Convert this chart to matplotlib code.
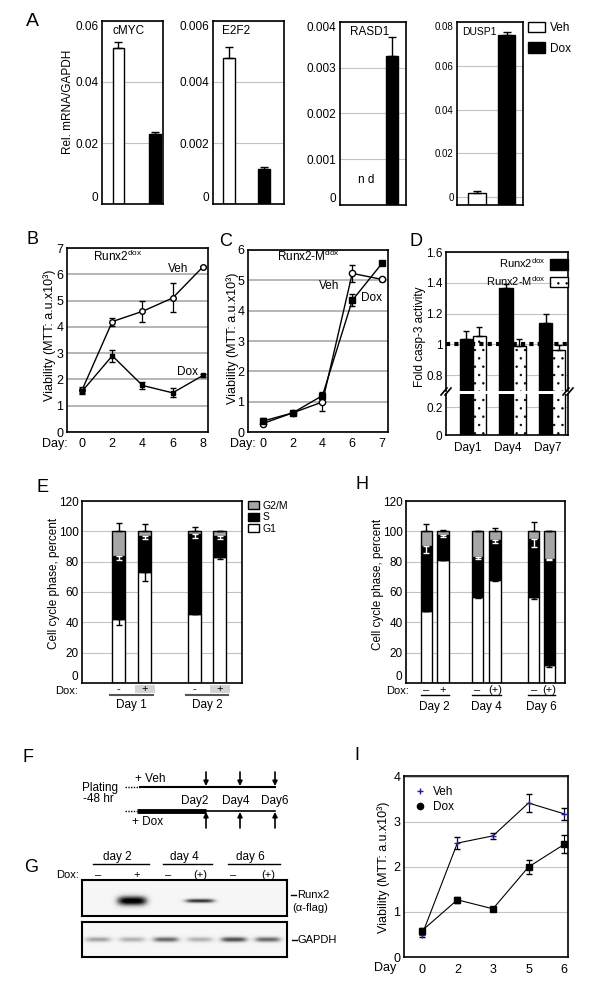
import numpy as np
import matplotlib
matplotlib.use('Agg')
import matplotlib.pyplot as plt
from matplotlib.patches import Patch, Rectangle
from matplotlib.lines import Line2D

plt.rcParams['font.family'] = ['Liberation Sans', 'DejaVu Sans']
plt.rcParams['mathtext.fontset'] = 'custom'
plt.rcParams['mathtext.rm'] = 'Liberation Sans'
plt.rcParams['font.size'] = 8.5
plt.rcParams['axes.linewidth'] = 1.2
plt.rcParams['hatch.linewidth'] = 0.5

# ---------------- data ----------------
# A: qPCR, relative mRNA / GAPDH (RASD1 in Veh not detected)
genes = ['cMYC', 'E2F2', 'RASD1', 'DUSP1']
mrna_veh = [0.0511, 0.0048, None, 0.0021]
mrna_veh_err = [0.0021, 0.00036, None, 0.0009]
mrna_dox = [0.0230, 0.00114, 0.00325, 0.0741]
mrna_dox_err = [0.0005, 0.00006, 0.00042, 0.0012]
mrna_ticks = [[0, 0.02, 0.04, 0.06],
              [0, 0.002, 0.004, 0.006],
              [0, 0.001, 0.002, 0.003, 0.004],
              [0, 0.02, 0.04, 0.06, 0.08]]

# B: Runx2dox viability
b_days = ['0', '2', '4', '6', '8']
b_veh = [1.6, 4.2, 4.59, 5.1, 6.28]
b_veh_err = [0.1, 0.15, 0.4, 0.55, 0.05]
b_dox = [1.55, 2.9, 1.77, 1.49, 2.15]
b_dox_err = [0.1, 0.22, 0.14, 0.17, 0.05]

# C: Runx2-Mdox viability
c_days = ['0', '2', '4', '6', '7']
c_veh = [0.28, 0.63, 0.99, 5.23, 5.03]
c_veh_err = [0.05, 0.05, 0.3, 0.27, 0.05]
c_dox = [0.36, 0.63, 1.2, 4.34, 5.56]
c_dox_err = [0.1, 0.05, 0.12, 0.2, 0.05]

# D: fold caspase-3 activity
d_days = ['Day1', 'Day4', 'Day7']
d_runx2 = [1.037, 1.363, 1.135]
d_runx2_err = [0.05, 0.027, 0.06]
d_runx2m = [1.052, 0.987, 0.961]
d_runx2m_err = [0.061, 0.05, 0.037]

# E: cell cycle, Day 1 / Day 2, Dox - / +
e_dox = ['-', '+', '-', '+']
e_days = ['Day 1', 'Day 2']
e_g1 = [42.5, 73.2, 45.5, 83.0]
e_g1_err = [4.0, 6.0, 0.0, 1.3]
e_s = [41.2, 23.5, 52.5, 13.7]
e_s_err = [2.7, 2.0, 2.6, 2.0]
e_g2m = [16.3, 3.3, 2.0, 3.3]
e_g2m_err = [5.2, 5.0, 3.0, 0.5]

# H: cell cycle, Day 2 / 4 / 6
h_dox = ['\u2013', '+', '\u2013', '(+)', '\u2013', '(+)']
h_days = ['Day 2', 'Day 4', 'Day 6']
h_g1 = [47.7, 81.0, 56.4, 68.0, 56.9, 11.8]
h_g1_err = [0.0, 0.0, 0.5, 0.5, 1.5, 1.0]
h_s = [42.9, 16.4, 26.6, 26.1, 38.1, 70.1]
h_s_err = [5.0, 1.0, 1.0, 2.0, 5.5, 1.0]
h_g2m = [9.4, 2.6, 17.0, 5.9, 5.0, 18.1]
h_g2m_err = [4.8, 1.0, 0.5, 2.0, 6.0, 0.5]

# F: schedule
f_days = ['Day2', 'Day4', 'Day6']

# G: western blot band intensities (0..1) per lane
g_days = ['day 2', 'day 4', 'day 6']
g_dox = ['\u2013', '+', '\u2013', '(+)', '\u2013', '(+)']
runx2_band = [0.0, 1.0, 0.0, 0.8, 0.0, 0.0]
runx2_thick = [0.05, 0.14, 0.05, 0.06, 0.05, 0.05]
gapdh_band = [0.4, 0.35, 0.6, 0.35, 0.7, 0.6]

# I: viability, Runx2 expression for 2 days
i_days = ['0', '2', '3', '5', '6']
i_veh = [0.48, 2.53, 2.69, 3.42, 3.18]
i_veh_err = [0.04, 0.14, 0.07, 0.2, 0.14]
i_dox = [0.58, 1.27, 1.07, 2.0, 2.5]
i_dox_err = [0.06, 0.07, 0.05, 0.15, 0.2]

# ---------------- helpers ----------------
W, H = 600, 996
fig = plt.figure(figsize=(6, 9.96), dpi=100)


def add_ax(box):
    x0, y0, x1, y1 = box
    return fig.add_axes([x0 / W, 1 - y1 / H, (x1 - x0) / W, (y1 - y0) / H])


def ftext(x, y, s, **kw):
    kw.setdefault('ha', 'center')
    kw.setdefault('va', 'center')
    fig.text(x / W, 1 - y / H, s, **kw)


def fline(xs, ys, **kw):
    fig.add_artist(Line2D([x / W for x in xs], [1 - y / H for y in ys], **kw))


def style(ax, fs=8.5, grid='#c4c4c4', glw=0.8):
    ax.tick_params(length=0, pad=2.5, labelsize=fs)
    ax.yaxis.grid(True, color=grid, lw=glw)
    ax.set_axisbelow(True)


mathdox = r'$^{\mathrm{dox}}$'
ylab_mtt = 'Viability (MTT: a.u.x10\u00b3)'

# ---------------- A ----------------
a_boxes = [(102, 21, 163, 204), (213, 21, 284, 204), (340, 22, 406, 205), (457, 22, 523, 205)]
a_xlims = [(-0.45, 1.22), (-0.46, 1.57), (-0.49, 1.4), (-0.68, 1.56)]
a_ylims = [(0, 0.06), (0, 0.006), (0, 0.004), (-0.0035, 0.08)]
a_width = [0.32, 0.34, 0.34, 0.59]
a_label_x = [0.18, 0.13, 0.15, 0.08]
for i, g in enumerate(genes):
    ax = add_ax(a_boxes[i])
    lo, hi = a_ylims[i]
    w = a_width[i]
    fs = 7 if i == 3 else 8.5
    if mrna_veh[i] is not None:
        ax.bar(0, mrna_veh[i] - lo, w, bottom=lo, color='white', edgecolor='k', lw=1)
        ax.errorbar(0, mrna_veh[i], yerr=[[0], [mrna_veh_err[i]]], fmt='none',
                    ecolor='k', capsize=3, elinewidth=1)
    else:
        ax.text(0.27, 0.00055, 'n d', ha='center', va='center', fontsize=8.5)
    ax.bar(1, mrna_dox[i] - lo, w, bottom=lo, color='black', edgecolor='k', lw=1)
    ax.errorbar(1, mrna_dox[i], yerr=[[0], [mrna_dox_err[i]]], fmt='none',
                ecolor='k', capsize=3, elinewidth=1)
    ax.set_xlim(*a_xlims[i])
    ax.set_ylim(lo, hi)
    ax.set_xticks([])
    ax.set_yticks(mrna_ticks[i])
    ax.set_yticklabels([f'{t:g}' for t in mrna_ticks[i]])
    style(ax, fs=fs)
    for t, lab in zip(mrna_ticks[i], ax.get_yticklabels()):
        if t == lo:
            lab.set_va('bottom')
        elif t == hi:
            lab.set_va('top')
    ax.text(a_label_x[i], 0.945, g, transform=ax.transAxes, ha='left', va='center',
            fontsize=7.5 if i == 3 else 8.5)
    if i == 3:
        ax.legend(handles=[Patch(facecolor='white', edgecolor='k', lw=1, label='Veh'),
                           Patch(facecolor='black', edgecolor='k', lw=1, label='Dox')],
                  loc='upper left', bbox_to_anchor=(1.076, 1.0), frameon=False,
                  borderpad=0, borderaxespad=0, handlelength=1.45, handleheight=0.97,
                  labelspacing=0.7, handletextpad=0.42, fontsize=8.5)
ftext(68, 102, 'Rel. mRNA/GAPDH', rotation=90)
ftext(32, 21, 'A', fontsize=14)

# ---------------- B ----------------
ax = add_ax((67, 248, 208, 432))
xb = np.arange(len(b_days))
ax.errorbar(xb, b_veh, yerr=b_veh_err, color='k', lw=1, marker='o', ms=4,
            mfc='white', mec='k', capsize=2.5, elinewidth=0.9)
ax.errorbar(xb, b_dox, yerr=b_dox_err, color='k', lw=1, marker='s', ms=3,
            mfc='k', mec='k', capsize=2.5, elinewidth=0.9)
ax.set_xlim(-0.5, 4.17)
ax.set_ylim(0, 7)
ax.set_yticks(range(8))
ax.set_xticks(xb)
ax.set_xticklabels(b_days)
style(ax, fs=9, grid='#a9a9a9', glw=1.2)
ax.tick_params(axis='x', pad=4)
ftext(93, 256, 'Runx2' + mathdox, ha='left', fontsize=8.5)
ftext(178, 269, 'Veh')
ftext(187, 372, 'Dox')
ftext(55, 444, 'Day:', fontsize=9)
ftext(50, 335, ylab_mtt, rotation=90, fontsize=9)
ftext(32, 240, 'B', fontsize=13)

# ---------------- C ----------------
ax = add_ax((248, 250, 388, 432))
xc = np.arange(len(c_days))
ax.errorbar(xc, c_veh, yerr=c_veh_err, color='k', lw=1, marker='o', ms=4.5,
            mfc='white', mec='k', capsize=2.5, elinewidth=0.9, zorder=3)
ax.errorbar(xc, c_dox, yerr=c_dox_err, color='k', lw=1, marker='s', ms=4.5,
            mfc='k', mec='k', capsize=2.5, elinewidth=0.9, zorder=3)
ax.set_xlim(-0.5, 4.2)
ax.set_ylim(0, 6)
ax.set_yticks(range(7))
ax.set_xticks(xc)
ax.set_xticklabels(c_days)
style(ax, fs=9, grid='#a9a9a9', glw=1.2)
ax.tick_params(axis='x', pad=4)
ftext(277, 256, 'Runx2-M' + mathdox, ha='left', fontsize=8.5)
ftext(329, 286, 'Veh')
ftext(371, 298, 'Dox')
ftext(243, 444, 'Day:', fontsize=9)
ftext(233, 338, ylab_mtt, rotation=90, fontsize=9)
ftext(226, 241, 'C', fontsize=13)

# ---------------- D ----------------
d_top = add_ax((446, 252, 568, 391))
d_bot = add_ax((446, 394, 568, 435))
xd = np.arange(len(d_days))
wd = 0.33
for ax in (d_top, d_bot):
    ax.bar(xd - wd / 2, d_runx2, wd, color='black', edgecolor='k', lw=1)
    ax.bar(xd + wd / 2, d_runx2m, wd, color='white', edgecolor='k', lw=1, hatch='..')
    ax.set_xlim(-0.68, 2.4)
    style(ax, fs=8.5)
d_top.errorbar(xd - wd / 2, d_runx2, yerr=[np.zeros(3), d_runx2_err], fmt='none',
               ecolor='k', capsize=2.5, elinewidth=1)
d_top.errorbar(xd + wd / 2, d_runx2m, yerr=[np.zeros(3), d_runx2m_err], fmt='none',
               ecolor='k', capsize=2.5, elinewidth=1)
d_top.axhline(1.0, color='k', lw=3, ls=(0, (1, 1)), zorder=5)
d_top.set_ylim(0.696, 1.6)
d_top.set_yticks([0.8, 1.0, 1.2, 1.4, 1.6])
d_top.set_yticklabels(['0.8', '1', '1.2', '1.4', '1.6'])
d_top.set_xticks([])
d_top.spines['bottom'].set_visible(False)
d_bot.set_ylim(0, 0.296)
d_bot.set_yticks([0, 0.2])
d_bot.set_yticklabels(['0', '0.2'])
d_bot.spines['top'].set_visible(False)
d_bot.set_xticks(xd - 0.12)
d_bot.set_xticklabels(d_days)
d_bot.tick_params(axis='x', pad=5)
d_top.legend(handles=[Patch(facecolor='black', edgecolor='k', lw=1, label='Runx2' + mathdox),
                      Patch(facecolor='white', edgecolor='k', lw=1, hatch='..',
                            label='Runx2-M' + mathdox)],
             loc='upper right', bbox_to_anchor=(1.0, 0.97), frameon=False, borderpad=0,
             borderaxespad=0, markerfirst=False, handlelength=1.65, handleheight=1.1,
             labelspacing=0.35, handletextpad=0.4, fontsize=8)
for bx in (446, 568):
    for dx in (-2, 2):
        fline([bx + dx - 3, bx + dx + 3], [395, 388], color='k', lw=1.2)
ftext(420, 337, 'Fold casp-3 activity', rotation=90, fontsize=8.5)
ftext(416, 241, 'D', fontsize=13)


# ---------------- E / H ----------------
def cycle_panel(ax, pos, g1, g1e, s, se, g2, g2e, w):
    g1 = np.array(g1)
    s = np.array(s)
    g2 = np.array(g2)
    z = np.zeros(len(pos))
    ax.bar(pos, g1, w, color='white', edgecolor='k', lw=1)
    ax.bar(pos, s, w, bottom=g1, color='black', edgecolor='k', lw=1)
    ax.bar(pos, g2, w, bottom=g1 + s, color='#a6a6a6', edgecolor='k', lw=1)
    ax.errorbar(pos, g1, yerr=[g1e, z], fmt='none', ecolor='k', capsize=2.5, elinewidth=1)
    ax.errorbar(pos, g1 + s, yerr=[se, z], fmt='none', ecolor='white', capsize=2.5,
                elinewidth=1)
    ax.errorbar(pos, g1 + s + g2, yerr=[z, g2e], fmt='none', ecolor='k', capsize=2.5,
                elinewidth=1)
    ax.set_ylim(0, 120)
    ax.set_yticks(range(0, 121, 20))
    ax.set_xticks([])
    style(ax, fs=8.5)
    ax.get_yticklabels()[0].set_va('bottom')


e_box = (82, 501, 242, 683)
ax = add_ax(e_box)
e_pos = np.array([0, 1, 2.9, 3.85])
cycle_panel(ax, e_pos, e_g1, e_g1_err, e_s, e_s_err, e_g2m, e_g2m_err, 0.51)
ax.set_xlim(-1.39, 4.7)
ax.legend(handles=[Patch(facecolor='#a6a6a6', edgecolor='k', lw=1, label='G2/M'),
                   Patch(facecolor='black', edgecolor='k', lw=1, label='S'),
                   Patch(facecolor='white', edgecolor='k', lw=1, label='G1')],
          loc='upper left', bbox_to_anchor=(1.04, 1.0), frameon=False, borderpad=0,
          borderaxespad=0, handlelength=1.0, handleheight=0.8, labelspacing=0.12,
          handletextpad=0.4, fontsize=7.5)
tr = ax.get_xaxis_transform()
fy = lambda py: (e_box[3] - py) / (e_box[3] - e_box[1])
for p, lab in zip(e_pos, e_dox):
    if lab == '+':
        ax.add_patch(Rectangle((p - 0.38, fy(693)), 0.76, fy(685) - fy(693), transform=tr,
                               facecolor='#d4d4d4', edgecolor='none', clip_on=False))
    ax.text(p, fy(689), lab, transform=tr, ha='center', va='center', fontsize=8)
for k, lab in enumerate(e_days):
    a, b = e_pos[2 * k], e_pos[2 * k + 1]
    ax.plot([a - 0.32, b + 0.32], [fy(694.5)] * 2, transform=tr, color='#555555', lw=1.5,
            clip_on=False)
    ax.text((a + b) / 2, fy(705), lab, transform=tr, ha='center', va='center', fontsize=8.5)
ftext(67, 691, 'Dox:', fontsize=8)
ftext(54, 583, 'Cell cycle phase, percent', rotation=90, fontsize=8.5)
ftext(43, 487, 'E', fontsize=13)

h_box = (406, 501, 565, 683)
ax = add_ax(h_box)
h_pos = np.array([0, 1, 3.1, 4.15, 6.5, 7.45])
cycle_panel(ax, h_pos, h_g1, h_g1_err, h_s, h_s_err, h_g2m, h_g2m_err, 0.7)
ax.set_xlim(-1.24, 8.4)
tr = ax.get_xaxis_transform()
for p, lab in zip(h_pos, h_dox):
    ax.text(p, fy(690), lab, transform=tr, ha='center', va='center', fontsize=8)
for k, lab in enumerate(h_days):
    a, b = h_pos[2 * k], h_pos[2 * k + 1]
    ax.plot([a - 0.35, b + 0.35], [fy(695)] * 2, transform=tr, color='k', lw=1, clip_on=False)
    ax.text((a + b) / 2, fy(707), lab, transform=tr, ha='center', va='center', fontsize=8.5)
ftext(398, 691, 'Dox:', fontsize=8)
ftext(378, 584, 'Cell cycle phase, percent', rotation=90, fontsize=8.5)
ftext(362, 484, 'H', fontsize=13)

# ---------------- F ----------------
axf = add_ax((0, 740, 300, 840))
axf.set_xlim(0, 300)
axf.set_ylim(840, 740)
axf.axis('off')
f_arrow_x = [206, 240, 275]
f_label_x = [195, 236, 275]
axf.plot([125, 140], [787, 787], color='k', lw=1, ls=(0, (1, 1)))
axf.plot([140, 275], [787, 787], color='k', lw=1.5)
axf.plot([125, 137], [811, 811], color='k', lw=1, ls=(0, (1, 1)))
axf.plot([137, 206], [811, 811], color='k', lw=3.5, solid_capstyle='butt')
axf.plot([206, 275], [811, 811], color='k', lw=1.2)
for x, lab, lx in zip(f_arrow_x, f_days, f_label_x):
    axf.annotate('', xy=(x, 786), xytext=(x, 772),
                 arrowprops=dict(arrowstyle='-|>', color='k', lw=1.2, mutation_scale=7,
                                 shrinkA=0, shrinkB=0))
    axf.annotate('', xy=(x, 812), xytext=(x, 828),
                 arrowprops=dict(arrowstyle='-|>', color='k', lw=1.2, mutation_scale=7,
                                 shrinkA=0, shrinkB=0))
    axf.text(lx, 801, lab, ha='center', va='center', fontsize=8.5)
axf.text(135, 779, '+ Veh', ha='left', va='center', fontsize=8.5)
axf.text(148, 822, '+ Dox', ha='center', va='center', fontsize=8.5)
axf.text(100, 788, 'Plating', ha='center', va='center', fontsize=8.5)
axf.text(98, 799, '-48 hr', ha='center', va='center', fontsize=8.5)
ftext(28, 757, 'F', fontsize=13)


# ---------------- G ----------------
def blot(box, levels, thick, yc, hw):
    ax = add_ax(box)
    xs = np.linspace(-0.47, 5.56, 410)
    ys = np.linspace(0, 1, 80)
    X, Y = np.meshgrid(xs, ys)
    img = np.full(X.shape, 0.07)
    for lane, lv in enumerate(levels):
        img += lv * np.exp(-((X - lane) / hw) ** 4) * np.exp(-((Y - yc) / thick[lane]) ** 2)
    ax.imshow(np.clip(img, 0, 1), cmap='Greys', vmin=0, vmax=1, aspect='auto',
              extent=(-0.47, 5.56, 1, 0), interpolation='bilinear')
    ax.set_xticks([])
    ax.set_yticks([])
    for sp in ax.spines.values():
        sp.set_linewidth(1.5)
    return ax


blot((82, 880, 287, 916), runx2_band, runx2_thick, 0.58, 0.45)
blot((82, 922, 287, 957), gapdh_band, [0.08] * 6, 0.5, 0.4)
lane_x = [98, 137, 168, 200, 233, 268]
for k, lab in enumerate(g_days):
    a, b = lane_x[2 * k], lane_x[2 * k + 1]
    ftext((a + b) / 2, 857, lab, fontsize=8.5)
    fline([a - 5, b + 12], [864, 864], color='k', lw=1)
for x, lab in zip(lane_x, g_dox):
    ftext(x, 875, lab, fontsize=8)
ftext(68, 875, 'Dox:', fontsize=8)
fline([291, 296], [895, 895], color='k', lw=1)
fline([292, 297], [940, 940], color='k', lw=1)
ftext(297, 895, 'Runx2', ha='left', fontsize=8)
ftext(292, 908, '(\u03b1-flag)', ha='left', fontsize=8)
ftext(298, 940, 'GAPDH', ha='left', fontsize=8)
ftext(31, 867, 'G', fontsize=13)

# ---------------- I ----------------
ax = add_ax((404, 776, 568, 957))
xi = np.arange(len(i_days))
ax.errorbar(xi, i_veh, yerr=i_veh_err, color='k', lw=0.8, marker='+', ms=4, mec='#1f1f9a',
            mew=1, capsize=2.5, elinewidth=0.8, zorder=3)
ax.errorbar(xi, i_dox, yerr=i_dox_err, color='k', lw=0.8, marker='s', ms=4.5, mfc='k',
            mec='k', capsize=2.5, elinewidth=0.8, zorder=3)
ax.set_xlim(-0.5, 4.11)
ax.set_ylim(0, 4.02)
ax.set_yticks(range(5))
ax.set_xticks(xi)
ax.set_xticklabels(i_days)
style(ax, fs=9)
ax.tick_params(axis='x', pad=5)
ax.legend(handles=[Line2D([], [], ls='none', marker='+', ms=4, mec='#1f1f9a', mew=1, label='Veh'),
                   Line2D([], [], ls='none', marker='o', ms=4.5, mfc='k', mec='k', label='Dox')],
          loc='upper left', bbox_to_anchor=(0.06, 0.945), frameon=False, borderpad=0,
          borderaxespad=0, handlelength=1.0, handletextpad=0.6, labelspacing=0.27,
          fontsize=8.5)
ftext(385, 968, 'Day', fontsize=9)
ftext(384, 867, ylab_mtt, rotation=90, fontsize=9)
ftext(357, 755, 'I', fontsize=13)

fig.savefig('out.png', dpi=100)
